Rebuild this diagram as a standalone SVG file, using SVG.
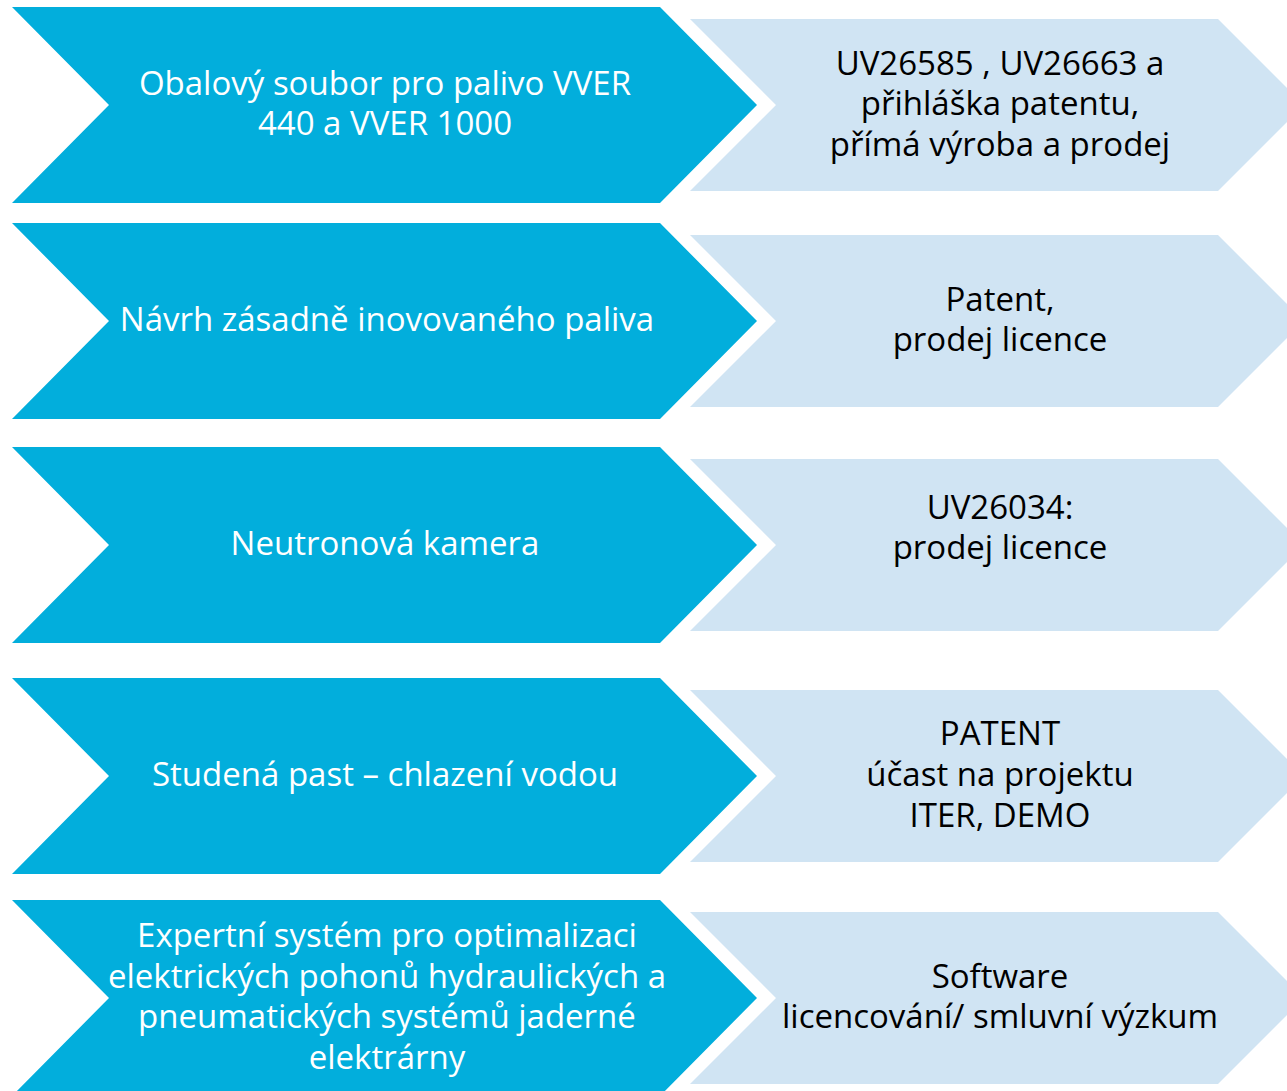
<svg xmlns="http://www.w3.org/2000/svg" xmlns:xlink="http://www.w3.org/1999/xlink" width="1287" height="1091" viewBox="0 0 1287 1091">
<style>
.dk{fill:#02AEDC}
.lt{fill:#D0E4F3}
.tw{font-family:"Open Sans","Noto Sans",sans-serif;font-size:33px;fill:#FFFFFF;text-anchor:middle}
.tb{font-family:"Open Sans","Noto Sans",sans-serif;font-size:33px;fill:#000000;text-anchor:middle}
</style>
<defs>
<path id="dchev" d="M12,-98 L660,-98 L757,0 L660,98 L12,98 L109,0 Z"/>
<path id="lchev" d="M690,-86 L1218,-86 L1304,0 L1218,86 L690,86 L776,0 Z"/>
</defs>
<g id="row1" transform="translate(0,105)">
<g id="n1a"><use xlink:href="#dchev" class="dk"/>
<text class="tw" x="385" y="-10">Obalový soubor pro palivo VVER</text>
<text class="tw" x="385" y="30">440 a VVER 1000</text></g>
<g id="n1b"><use xlink:href="#lchev" class="lt"/>
<text class="tb" x="1000" y="-30">UV26585 , UV26663 a</text>
<text class="tb" x="1000" y="10">přihláška patentu,</text>
<text class="tb" x="1000" y="51">přímá výroba a prodej</text></g>
</g>
<g id="row2" transform="translate(0,321)">
<g id="n2a"><use xlink:href="#dchev" class="dk"/>
<text class="tw" x="387" y="10">Návrh zásadně inovovaného paliva</text></g>
<g id="n2b"><use xlink:href="#lchev" class="lt"/>
<text class="tb" x="1000" y="-10">Patent,</text>
<text class="tb" x="1000" y="30">prodej licence</text></g>
</g>
<g id="row3" transform="translate(0,545)">
<g id="n3a"><use xlink:href="#dchev" class="dk"/>
<text class="tw" x="385" y="10">Neutronová kamera</text></g>
<g id="n3b"><use xlink:href="#lchev" class="lt"/>
<text class="tb" x="1000" y="-26">UV26034:</text>
<text class="tb" x="1000" y="14">prodej licence</text></g>
</g>
<g id="row4" transform="translate(0,776)">
<g id="n4a"><use xlink:href="#dchev" class="dk"/>
<text class="tw" x="385" y="10">Studená past – chlazení vodou</text></g>
<g id="n4b"><use xlink:href="#lchev" class="lt"/>
<text class="tb" x="1000" y="-31">PATENT</text>
<text class="tb" x="1000" y="10">účast na projektu</text>
<text class="tb" x="1000" y="51">ITER, DEMO</text></g>
</g>
<g id="row5" transform="translate(0,998)">
<g id="n5a"><use xlink:href="#dchev" class="dk"/>
<text class="tw" x="387" y="-51">Expertní systém pro optimalizaci</text>
<text class="tw" x="387" y="-10">elektrických pohonů hydraulických a</text>
<text class="tw" x="387" y="30">pneumatických systémů jaderné</text>
<text class="tw" x="387" y="71">elektrárny</text></g>
<g id="n5b"><use xlink:href="#lchev" class="lt"/>
<text class="tb" x="1000" y="-10">Software</text>
<text class="tb" x="1000" y="30">licencování/ smluvní výzkum</text></g>
</g>
<g id="connectors"></g>
</svg>
